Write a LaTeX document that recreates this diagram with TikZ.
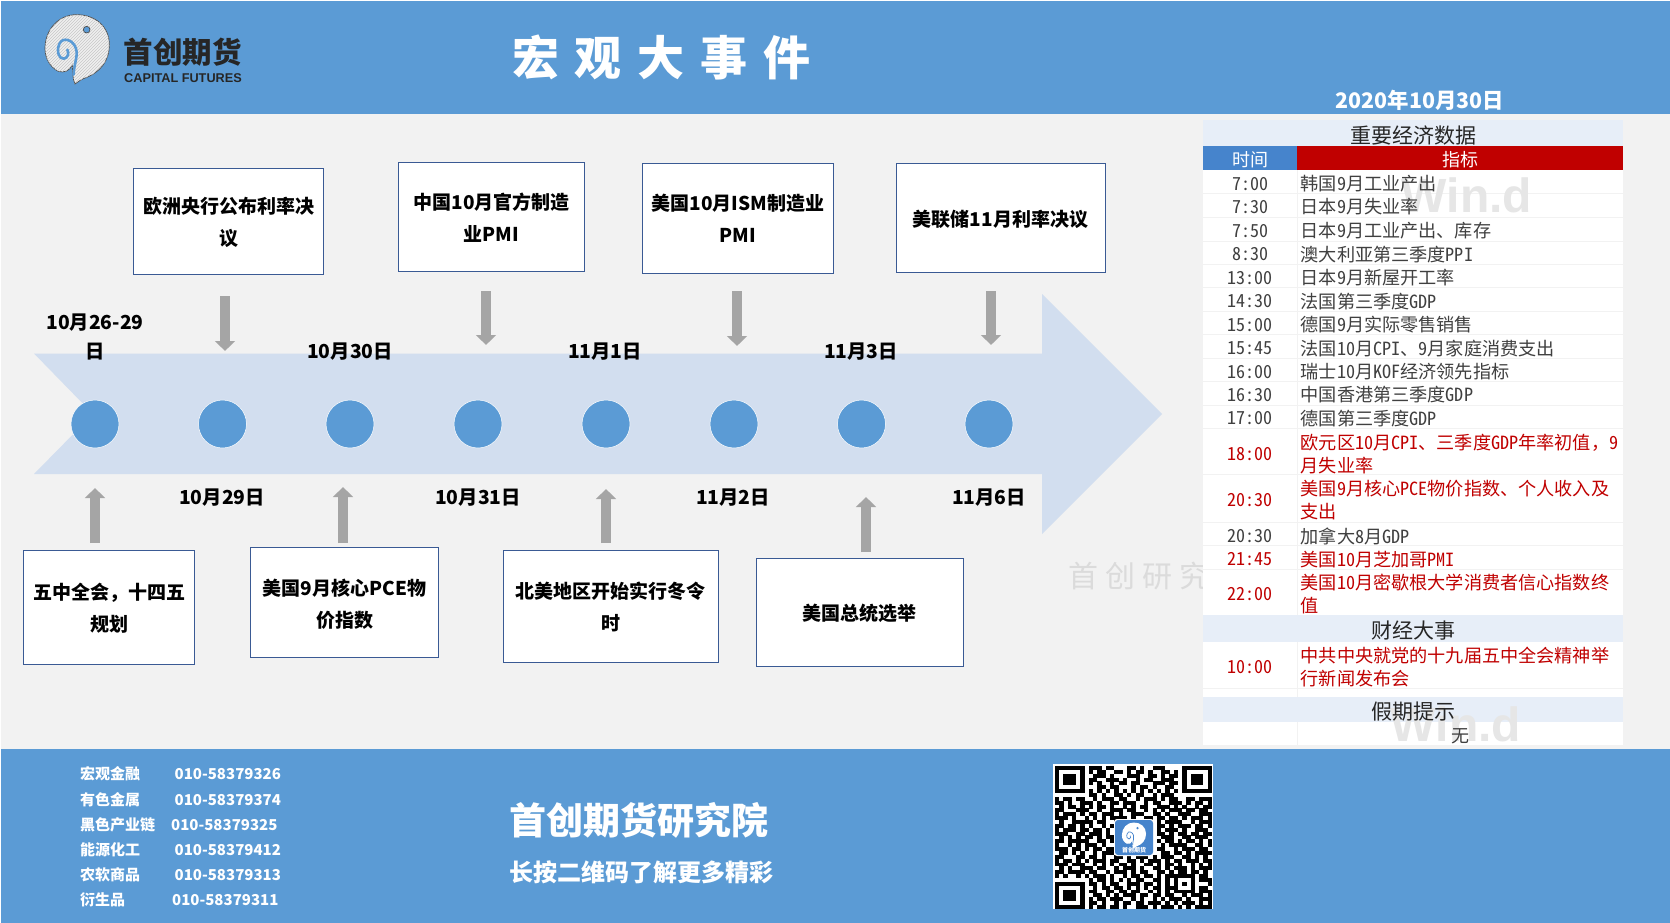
\documentclass[tikz,border=0pt]{standalone}
\usepackage{fontspec}
\setmainfont{Noto Sans CJK SC}
\newfontfamily\rowfont{Noto Sans CJK SC}[RawFeature=+hwid]
\newfontfamily\latinbold{Liberation Sans}[Scale=1]
\usetikzlibrary{arrows.meta}
\usetikzlibrary{patterns}

\definecolor{hdrblue}{HTML}{5B9BD5}
\definecolor{pagegray}{HTML}{F2F2F2}
\definecolor{bandblue}{HTML}{D2DEEF}
\definecolor{boxline}{HTML}{3A5A94}
\definecolor{arrowgray}{HTML}{A5A5A5}
\definecolor{rowtitle}{HTML}{E7EEF8}
\definecolor{timeblue}{HTML}{4684CC}
\definecolor{bullred}{HTML}{C00000}
\definecolor{rowtext}{HTML}{404040}
\definecolor{markgray}{HTML}{E6E6E6}

\newcommand{\px}[1]{\fontsize{#1}{#1}\selectfont}
\newcount\qrcol
\def\qrwalk#1{\ifx#1;\let\qrnext\relax\else
  \ifx#1x\fill (1055+\the\qrcol*4.24,766+\qrline*3.86) rectangle +(4.3,3.92);\fi
  \advance\qrcol by 1 \let\qrnext\qrwalk\fi\qrnext}

\tikzset{
  evtbox/.style={draw=boxline, fill=white, line width=1pt, inner sep=0pt},
  evttext/.style={align=center, inner sep=0pt, font=\bfseries\fontsize{19}{32}\selectfont},
  datelbl/.style={align=center, inner sep=0pt, yshift=-1pt, font=\bfseries\fontsize{19.3}{29}\selectfont},
  dotnode/.style={circle, draw=white, fill=hdrblue, line width=.5pt, minimum size=48pt, inner sep=0pt},
  grayarrow/.style={draw=arrowgray, line width=10pt, -{Triangle[length=10pt,width=19.5pt]}},
  timelbl/.style={inner sep=0pt, yshift=-1pt, font=\rowfont\fontsize{18}{23.5}\selectfont},
  itemlbl/.style={inner sep=0pt, yshift=-1pt, anchor=west, align=left, font=\rowfont\fontsize{18.15}{23.5}\selectfont},
  headlbl/.style={inner sep=0pt, yshift=-1pt, font=\fontsize{21}{21}\selectfont, text=black!85},
  footlbl/.style={inner sep=0pt, yshift=-1pt, anchor=west, text=white, font=\bfseries\fontsize{15}{15}\selectfont},
  swirlbody/.style={fill=black!6, draw=black!70, line width=.7pt,
    postaction={pattern=north east lines, pattern color=black!22}},
  swirleye/.style={fill=hdrblue, draw=black!70, line width=.7pt},
  swirlcut/.style={draw=hdrblue, line width=2.6pt, line cap=round},
  swirl/.pic={
    \path[swirlbody] (105,228) .. controls (115,222) and (120,215) .. (130,212)
      .. controls (180,195) and (208,160) .. (208,110)
      .. controls (208,55) and (165,20) .. (110,20)
      .. controls (55,20) and (15,65) .. (15,122)
      .. controls (15,150) and (30,178) .. (55,190)
      .. controls (70,195) and (90,190) .. (97,170)
      .. controls (98,190) and (98,215) .. (105,228) -- cycle;
    \path[swirlcut] (101,200) .. controls (102,165) and (115,145) .. (108,122)
      .. controls (100,95) and (68,85) .. (58,108)
      .. controls (48,130) and (58,155) .. (72,152)
      .. controls (84,150) and (88,135) .. (82,125);
    \path[swirleye] (140,65) circle (10);
  }
}

\begin{document}
\begin{tikzpicture}[x=1pt,y=-1pt]
  \useasboundingbox (0,0) rectangle (1670,923);
  \fill[white] (0,0) rectangle (1670,923);
  \fill[pagegray] (1,114) rectangle (1670,749);
  \fill[hdrblue] (1,1) rectangle (1670,114);
  \fill[hdrblue] (1,749) rectangle (1670,923);

  % header
  \pic[scale=.3333] at (40,8) {swirl};
  \node[inner sep=0pt, text=black!85, font=\bfseries\px{29.5}] (logotext) at (182.5,52) {首创期货};
  \node[inner sep=0pt, text=black!85, font=\latinbold\bfseries\px{12.7}] (logosub) at (183,78) {CAPITAL FUTURES};
  \node[inner sep=0pt, text=white, font=\bfseries\px{47}] (title) at (661.5,57)
    {宏\hspace{16pt}观\hspace{16pt}大\hspace{16pt}事\hspace{16pt}件};
  \node[inner sep=0pt, text=white, font=\bfseries\px{21.4}] (daytag) at (1420,100) {2020年10月30日};

  % timeline band
  \fill[bandblue] (34,353.5) -- (1042,353.5) -- (1042,294) -- (1162,414) -- (1042,534)
    -- (1042,474) -- (34,474) -- (93,414) -- cycle;
  \foreach \i/\x in {1/95,2/222.5,3/350,4/478,5/606,6/734,7/861.5,8/989}
    \node[dotnode] (dot\i) at (\x,424) {};

  \node[datelbl] (d1) at (95,336) {10月26-29\\日};
  \node[datelbl] (d2) at (222,497) {10月29日};
  \node[datelbl] (d3) at (350,351) {10月30日};
  \node[datelbl] (d4) at (478,497) {10月31日};
  \node[datelbl] (d5) at (605,351) {11月1日};
  \node[datelbl] (d6) at (733,497) {11月2日};
  \node[datelbl] (d7) at (861,351) {11月3日};
  \node[datelbl] (d8) at (989,497) {11月6日};

  % events
  \foreach \i/\x/\y/\w/\h/\dy/\txt in {1/228.5/221.5/190/106/1/{欧洲央行公布利率决\\议},
      2/491.5/217/186/109/1/{中国10月官方制造\\业PMI},
      3/738/218.5/191/110/0/{美国10月ISM制造业\\PMI},
      4/1000.5/218/209/109/1/美联储11月利率决议,
      5/109/607.5/171/114/.5/{五中全会，十四五\\规划},
      6/344.5/602.5/188/110/2/{美国9月核心PCE物\\价指数},
      7/610.5/606.5/215/112/0/{北美地区开始实行冬令\\时},
      8/859.5/612.5/207/108/1/美国总统选举} {
    \node[evtbox, minimum width=\w pt, minimum height=\h pt] (ev\i) at (\x,\y) {};
    \node[evttext] (evt\i) at ([yshift=-\dy pt]ev\i.center) {\txt};
  }

  % arrows next to the events
  \foreach \i/\x/\ya/\yb in {1/225/296/351,2/486/291/345,3/737/291/346,4/991/291/345,
      5/95/543/488,6/343/543/487,7/606/543/489,8/866/552/497} {
    \coordinate (ar\i a) at (\x,\ya);
    \coordinate (ar\i b) at (\x,\yb);
    \draw[grayarrow] (ar\i a) -- (ar\i b);
  }

  % watermark behind the table
  \node[inner sep=0pt, text=black!14, font=\fontsize{30}{30}\selectfont] (mark3) at (1139,576)
    {首\hspace{7pt}创\hspace{7pt}研\hspace{7pt}究};

  % data table
  \fill[white] (1203,170) rectangle (1623,745);
  \fill[rowtitle] (1203,120.5) rectangle (1623,146);
  \fill[timeblue] (1203,146) rectangle (1297,170);
  \fill[bullred] (1297,146) rectangle (1623,170);
  \fill[rowtitle] (1203,615) rectangle (1623,641.7);
  \fill[rowtitle] (1203,696.7) rectangle (1623,722);
  \foreach \y in {193.5,216.8,240.7,264,287.4,310.7,334.3,357.7,381.3,404.7,428,474.3,521.7,545,568.7,688}
    \draw[pagegray] (1203,\y) -- (1623,\y);
  \draw[pagegray] (1297,170) -- (1297,615);
  \draw[pagegray] (1297,641.7) -- (1297,696.7);
  \draw[pagegray] (1297,722) -- (1297,745);
  \node[inner sep=0pt, text=markgray, font=\latinbold\bfseries\px{48}] (mark1) at (1467,195) {Win.d};
  \node[inner sep=0pt, text=markgray, font=\latinbold\bfseries\px{48}] (mark2) at (1456,724) {Win.d};

  \node[headlbl] (h1) at (1413,135) {重要经济数据};
  \node[timelbl, text=white] (h2) at (1250,159) {时间};
  \node[timelbl, text=white] (h3) at (1460,159) {指标};
  \foreach \i/\y/\tm/\txt in {1/183/7:00/韩国9月工业产出,2/206/7:30/日本9月失业率,
      3/230/7:50/日本9月工业产出、库存,4/253.5/8:30/澳大利亚第三季度PPI,
      5/277/13:00/日本9月新屋开工率,6/300.5/14:30/法国第三季度GDP,
      7/324/15:00/德国9月实际零售销售,8/347.5/15:45/法国10月CPI、9月家庭消费支出,
      9/371/16:00/瑞士10月KOF经济领先指标,10/394/16:30/中国香港第三季度GDP,
      11/417.5/17:00/德国第三季度GDP,12/535/20:30/加拿大8月GDP} {
    \node[timelbl, text=rowtext] (tm\i) at (1250,\y) {\tm};
    \node[itemlbl, text=rowtext] (it\i) at (1300.5,\y) {\txt};
  }
  \foreach \i/\y/\tm/\txt in {13/453/18:00/{欧元区10月CPI、三季度GDP年率初值{\rmfamily ，}9\\月失业率},
      14/499/20:30/{美国9月核心PCE物价指数、个人收入及\\支出},
      15/558.5/21:45/美国10月芝加哥PMI,
      16/593/22:00/{美国10月密歇根大学消费者信心指数终\\值},
      17/666/10:00/{中共中央就党的十九届五中全会精神举\\行新闻发布会}} {
    \node[timelbl, text=bullred] (tm\i) at (1250,\y) {\tm};
    \node[itemlbl, text=bullred] (it\i) at (1300.5,\y) {\txt};
  }
  \node[headlbl] (h4) at (1413,630) {财经大事};
  \node[headlbl] (h5) at (1413,711) {假期提示};
  \node[timelbl, text=rowtext] (none) at (1460,735) {无};

  % footer
  \foreach \i/\y/\x/\desk/\tel in {1/773/174.5/宏观金融/010-58379326,2/799/174.5/有色金属/010-58379374,
      3/824/171/黑色产业链/010-58379325,4/849/174.5/能源化工/010-58379412,
      5/874/174.5/农软商品/010-58379313,6/899/172/衍生品/010-58379311} {
    \node[footlbl] (desk\i) at (80,\y) {\desk};
    \node[footlbl] (tel\i) at (\x,\y) {\tel};
  }
  \node[inner sep=0pt, anchor=west, text=white, font=\bfseries\px{37}] (inst) at (509,820) {首创期货研究院};
  \node[inner sep=0pt, anchor=west, text=white, font=\bfseries\px{24}] (more) at (509,872) {长按二维码了解更多精彩};

  % qr code
  \fill[white] (1053,764) rectangle (1213,909);
  \begin{scope}
  \clip (1053,764) rectangle (1213,909);
  \foreach \qrrow [count=\qrline from 0] in {
    xxxxxxx0xxx0xx000xx0x00xxx0000xxxxxxx,
    x00000x0x0xx00xx0x0xx0x00xx0x0x00000x,
    x0xxx0x00xxx0x000xxx00xx0x0xx0x0xxx0x,
    x0xxx0x0xx00xxx0x00x0xx00xxx00x0xxx0x,
    x0xxx0x0x0x00x0xx0xx000xxx0xx0x0xxx0x,
    x00000x000xx0xx000x0xx0x00xx00x00000x,
    xxxxxxx0x0x0x0x0x0x0x0x0x0x0x0xxxxxxx,
    00000000xx0x00xx0x0xx00x0xxx000000000,
    x0xx0xx00x0xxx0xx00x0xxx0x0xx00xx0xxx,
    xx0x00xxx0x00xx0xxx00x0xx00xxx0x0xx0x,
    0x0xx0x0x0xx0x00x0x0xx00xxx0x0x00x0xx,
    xx000xxx00x00xxx0xx00x0x0x0xxx0xx0xx0,
    x0xxx0x0xx0xxx0x00xxx00xx0x00xxx00xxx,
    xxx0x00x0x0x0xxxx0x00xx0xx0xx0x0xxx0x,
    0x00xxxxx0xx00x0xx0xxx00x0xxxx00x0xxx,
    xx0xx0x0x00x0xx000000000xx0x0xxx0xx0x,
    x0xxx0xx0xx0x00000000000x0xxx0x00xxx0,
    xxx00xx0xxx0x00000000000xx0x0xx0xx0xx,
    0x0x0x0xx0x0xx00000000000xxx00xx0xxx0,
    xx0xxxxx00xx0x0000000000x0xx0x0xx0x0x,
    x00x0x0xxx0x0000000000000x0xxxx00xx0x,
    xxx0xx0x0xx0xx0000000000xx00x0xxx0xx0,
    0xx0x0x00x0xxx00000000000xx0xx0x0xxxx,
    xx000xx0xx0x00xx0x0xxx0x0xxx00xx0x0x0,
    x0xx0x0x0xxx0xx00xx0x0xxx0x0xx0xxx0xx,
    xxx0xxx00x0x0x0xx0x00xx0x0xx0x00x0x0x,
    0x0x00xxx0xx00x0xxx0x00xx0x0xxx0x0xxx,
    xx0xxxx0xx00x0xxx0x0xx00xx0x0xx0xx0x0,
    x0x00x0x0xxx0x00x0xx0xx0x0xxxxxxx0xx0,
    00000000x0xx0x0x0x0xx00xx0x0x000x0xxx,
    xxxxxxx0xx0x0xx00xxx0xx0x0x0x0x0x000x,
    x00000x00x0xx0xx0x0x0x0xx0xxx000x0xx0,
    x0xxx0x0xx00xx0xx0xx00x0x0x0xxxxx0xxx,
    x0xxx0x00xx0x0x0xxx0xx0xx0xx00x0xxx0x,
    x0xxx0x0x0xx0xxx00x0x00x0x0xxx0x00xxx,
    x00000x0xx0x00x0xx0xx0xxx0x0x0xxx0x0x,
    xxxxxxx0x0xx0xx0x00xxx0x0xxx0x0x0xxxx} {
    \qrcol=0 \expandafter\qrwalk\qrrow;
  }
  \end{scope}
  \fill[white, rounded corners=3pt] (1114,819) rectangle (1154,856);
  \fill[timeblue, rounded corners=3pt] (1115,820) rectangle (1153,855);
  \begin{scope}[swirlbody/.style={fill=white}, swirleye/.style={fill=timeblue},
      swirlcut/.style={draw=timeblue, line width=.7pt}]
    \pic[scale=.125] at (1120,820) {swirl};
  \end{scope}
  \node[inner sep=0pt, text=white, font=\bfseries\px{6}] (qrtag) at (1134,850) {首创期货};
\end{tikzpicture}
\end{document}
